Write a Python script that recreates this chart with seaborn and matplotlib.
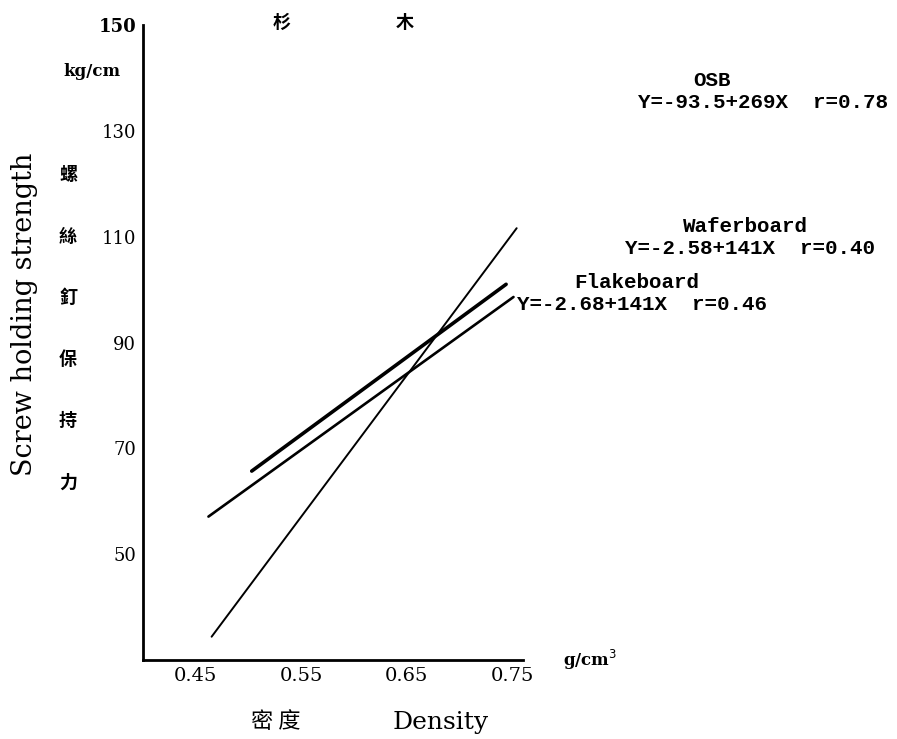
import matplotlib
matplotlib.use("Agg")
import matplotlib.pyplot as plt
import seaborn as sns
import pandas as pd

# Regression lines (end points, density g/cm3 vs screw holding strength kg/cm)
boards = ["OSB", "Waferboard", "Flakeboard"]
density_start = [0.465, 0.503, 0.462]
density_end = [0.754, 0.744, 0.751]
strength_start = [34.4, 65.7, 57.1]
strength_end = [111.6, 101.0, 98.6]
equations = ["Y=-93.5+269X  r=0.78", "Y=-2.58+141X  r=0.40", "Y=-2.68+141X  r=0.46"]

x_ticks = [0.45, 0.55, 0.65, 0.75]
x_tick_labels = ["0.45", "0.55", "0.65", "0.75"]
y_ticks = [50, 70, 90, 110, 130, 150]
y_tick_labels = ["50", "70", "90", "110", "130", "150"]
cjk_ylabel_chars = ["螺", "絲", "釘", "保", "持", "力"]

df = pd.DataFrame({
    "board": boards * 2,
    "density": density_start + density_end,
    "strength": strength_start + strength_end,
})

sns.set_theme(style="white")
plt.rcParams["font.family"] = ["DejaVu Serif", "Noto Sans CJK TC"]
plt.rcParams["text.color"] = "black"
plt.rcParams["xtick.color"] = "black"
plt.rcParams["ytick.color"] = "black"

W, H = 897, 739
fig = plt.figure(figsize=(W / 100, H / 100), dpi=100)
ax = fig.add_axes([143 / W, 1 - 660 / H, (523 - 143) / W, (660 - 25) / H])

widths = {"OSB": 1.4, "Waferboard": 2.6, "Flakeboard": 1.9}
for b in boards:
    sns.lineplot(data=df[df["board"] == b], x="density", y="strength",
                 color="black", linewidth=widths[b], ax=ax, legend=False)

ax.set_xlim(0.40, 0.76)
ax.set_ylim(30, 150)
ax.set_xticks(x_ticks)
ax.set_xticklabels(x_tick_labels, fontsize=14)
ax.set_yticks(y_ticks)
ax.set_yticklabels(y_tick_labels, fontsize=13)
ax.get_yticklabels()[-1].set_fontweight("bold")
ax.set_xlabel("")
ax.set_ylabel("")
ax.tick_params(direction="in", length=4, width=1.5, colors="black", pad=5)
for side in ["top", "right"]:
    ax.spines[side].set_visible(False)
for side in ["left", "bottom"]:
    ax.spines[side].set_color("black")
    ax.spines[side].set_linewidth(2)


def put(x, y, s, **kw):
    fig.text(x / W, 1 - y / H, s, color="black", **kw)


# title and unit labels
put(282, 22, "杉", ha="center", va="center", fontsize=13, fontweight="bold",
    family=["Noto Sans CJK TC"])
put(405, 22, "木", ha="center", va="center", fontsize=13, fontweight="bold",
    family=["Noto Sans CJK TC"])
put(92, 72, "kg/cm", ha="center", va="center", fontsize=12, fontweight="bold")
put(590, 660, "g/cm$^3$", ha="center", va="center", fontsize=12, fontweight="bold")

# axis titles
put(25, 314, "Screw holding strength", rotation=90, ha="center", va="center",
    fontsize=19.5, fontweight="light")
for i, ch in enumerate(cjk_ylabel_chars):
    put(68, 175 + i * 61.4, ch, ha="center", va="center", fontsize=13,
        fontweight="bold", family=["Noto Sans CJK TC"])
put(276, 722, "密 度", ha="center", va="center", fontsize=16,
    family=["Noto Sans CJK TC"])
put(441, 723, "Density", ha="center", va="center", fontsize=18)

# regression equations
mono = dict(family=["Liberation Mono"], fontweight="bold", fontsize=15)
put(712, 80, "OSB", ha="center", va="center", **mono)
put(638, 103, equations[0], ha="left", va="center", **mono)
put(745, 227, "Waferboard", ha="center", va="center", **mono)
put(625, 249, equations[1], ha="left", va="center", **mono)
put(637, 283, "Flakeboard", ha="center", va="center", **mono)
put(517, 305, equations[2], ha="left", va="center", **mono)

fig.savefig("out.png", dpi=100)
